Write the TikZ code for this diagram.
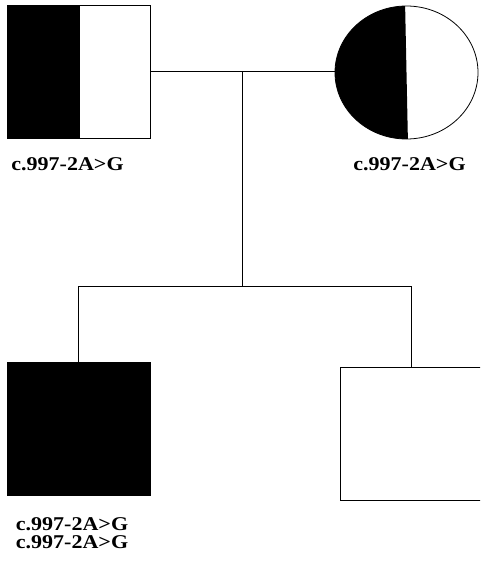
\documentclass[tikz,border=0pt]{standalone}
\usepackage{fontspec}
\setmainfont{Liberation Serif}
\usetikzlibrary{shapes.geometric}
\begin{document}
\begin{tikzpicture}[x=1pt,y=-1pt,line width=0.8pt,
  male/.style={draw=black,rectangle,minimum width=143pt,minimum height=133pt,inner sep=0pt,outer sep=0pt},
  female/.style={draw=black,ellipse,minimum width=143pt,minimum height=133pt,inner sep=0pt,outer sep=0pt},
  lab/.style={font=\fontsize{19.5}{18.3}\selectfont\bfseries,anchor=base,inner sep=0pt}]
\useasboundingbox (0,0) rectangle (480,565);
\clip (0,0) rectangle (480,565);
% fills
\fill[black] (7,5) rectangle (80,138);
\begin{scope}
  \clip (406.5,72.5) ellipse [x radius=71.5, y radius=66.5];
  \fill[black] (405,0) -- (408,145) -- (330,145) -- (330,0) -- cycle;
\end{scope}
\fill[black] (7,362) rectangle (150,495);
% nodes
\node[male] (father) at (78.5,71.5) {};
\node[female] (mother) at (406.5,72.5) {};
\node[male] (son) at (78.5,428.5) {};
\node[male] (sib) at (411.5,433.5) {};
% labels
\node[lab] (flab) at (67.5,170) {\scalebox{1.13}[1]{c.997-2A>G}};
\node[lab] (mlab) at (409.5,170) {\scalebox{1.13}[1]{c.997-2A>G}};
\node[lab] (slab1) at (72,530) {\scalebox{1.13}[1]{c.997-2A>G}};
\node[lab] (slab2) at (72,548.3) {\scalebox{1.13}[1]{c.997-2A>G}};
% connectors
\coordinate (mar) at (242.7,71.5);
\coordinate (sibl) at (242.7,286);
\draw (father.east) -- (father.east -| mother.west);
\draw (mar) -- (sibl);
\draw (son.north) -- (son.north |- sibl) -- (sib.north |- sibl) -- (sib.north);
\end{tikzpicture}
\end{document}
